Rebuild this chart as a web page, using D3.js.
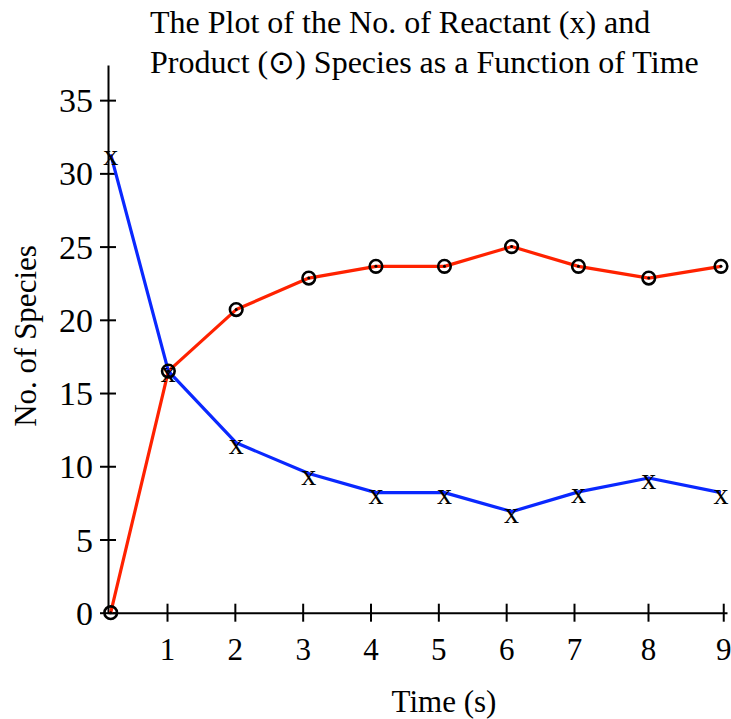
<!DOCTYPE html>
<html>
<head>
<meta charset="utf-8">
<script src="https://cdn.jsdelivr.net/npm/d3@7"></script>
<style>
  html, body { margin: 0; padding: 0; background: #fff; }
  svg { display: block; }
  text { font-family: "Liberation Serif", "Times New Roman", serif; fill: #000; }
</style>
</head>
<body>
<svg id="chart" width="731" height="719"></svg>
<script>
// ---- data ----
const times    = [0.17, 1.02, 2.02, 3.09, 4.08, 5.09, 6.08, 7.06, 8.01, 8.97];
const reactant = [31.3, 16.5, 11.6, 9.5, 8.2, 8.2, 6.9, 8.25, 9.2, 8.2];
const product  = [0, 16.5, 20.7, 22.85, 23.65, 23.65, 25.0, 23.65, 22.85, 23.65];
const xTicks   = [1, 2, 3, 4, 5, 6, 7, 8, 9];
const yTicks   = [0, 5, 10, 15, 20, 25, 30, 35];
const titleLines = ["The Plot of the No. of Reactant (x) and",
                    "Product (\u2299) Species as a Function of Time"];
const xLabel = "Time (s)";
const yLabel = "No. of Species";

// ---- layout ----
const svg = d3.select("#chart");
const x = d3.scaleLinear().domain([0.13, 7, 8, 9.05]).range([108, 574, 648, 727]);
const y = d3.scaleLinear().domain([0, 37.4]).range([612.7, 65]);

// axes
const xAxis = svg.append("g").attr("transform", `translate(0,${y(0)})`)
  .call(d3.axisBottom(x).tickValues(xTicks).tickSizeOuter(0).tickSizeInner(9).tickPadding(16).tickFormat(d3.format("d")));
xAxis.select(".domain").attr("stroke", "#000").attr("stroke-width", 2);
xAxis.selectAll(".tick line").attr("y1", -9).attr("y2", 9).attr("stroke-width", 2);
xAxis.selectAll(".tick text").style("font-size", "31px").attr("font-family", null).attr("dy", "0.71em");

const yAxis = svg.append("g").attr("transform", `translate(${x(0.13)},0)`)
  .call(d3.axisLeft(y).tickValues(yTicks).tickSizeOuter(0).tickSizeInner(8).tickPadding(7).tickFormat(d3.format("d")));
yAxis.select(".domain").attr("stroke", "#000").attr("stroke-width", 2);
yAxis.selectAll(".tick line").attr("x1", -8).attr("x2", 8).attr("stroke-width", 2);
yAxis.selectAll(".tick text").style("font-size", "34px").attr("font-family", null).attr("dy", "0.34em");

// lines
const pts = (vals) => times.map((t, i) => [t, vals[i]]);
const line = d3.line().x(d => x(d[0])).y(d => y(d[1]));
svg.append("path").datum(pts(product)).attr("d", line)
  .attr("fill", "none").attr("stroke", "#ff2200").attr("stroke-width", 3.2).attr("stroke-linejoin", "round");
svg.append("path").datum(pts(reactant)).attr("d", line)
  .attr("fill", "none").attr("stroke", "#0a28ff").attr("stroke-width", 3.2).attr("stroke-linejoin", "round");

// product markers: circle with centre dot
const pm = svg.append("g").selectAll("g").data(pts(product)).join("g")
  .attr("transform", d => `translate(${x(d[0])},${y(d[1])})`);
pm.append("circle").attr("r", 6.3).attr("fill", "none").attr("stroke", "#000").attr("stroke-width", 2.6);
pm.append("circle").attr("r", 1.5).attr("fill", "#000");

// reactant markers: letter x
svg.append("g").selectAll("text").data(pts(reactant)).join("text")
  .attr("x", d => x(d[0])).attr("y", d => y(d[1]) + 11)
  .attr("text-anchor", "middle").style("font-size", "30px").text("x");

// title
svg.append("g").selectAll("text").data(titleLines).join("text")
  .attr("x", 150).attr("y", (d, i) => 33 + i * 40)
  .style("font-size", "32px").text(d => d);

// axis labels
svg.append("text").attr("x", 444).attr("y", 712).attr("text-anchor", "middle")
  .style("font-size", "31px").text(xLabel);
svg.append("text").attr("transform", "translate(36,336) rotate(-90)").attr("text-anchor", "middle")
  .style("font-size", "31px").text(yLabel);
</script>
</body>
</html>
